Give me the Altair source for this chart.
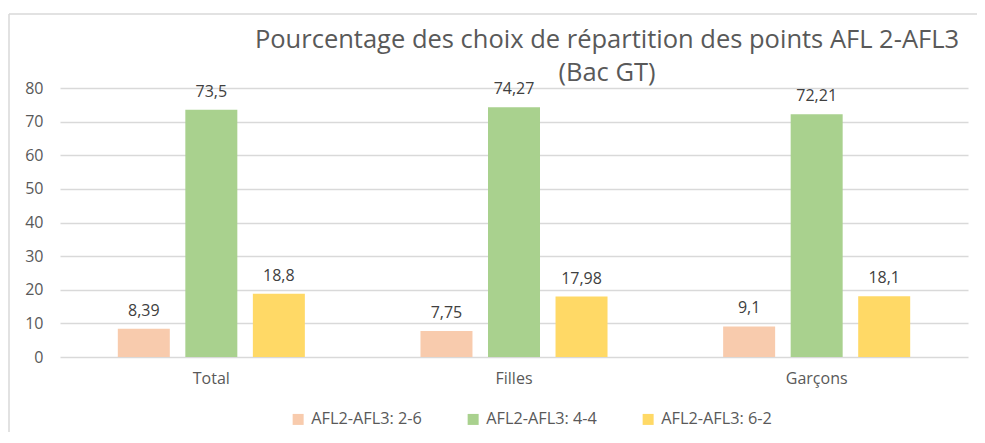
import altair as alt
import pandas as pd

categories = ["Total", "Filles", "Garçons"]
series = ["AFL2-AFL3: 2-6", "AFL2-AFL3: 4-4", "AFL2-AFL3: 6-2"]
v_26 = [8.39, 7.75, 9.1]
v_44 = [73.5, 74.27, 72.21]
v_62 = [18.8, 17.98, 18.1]
colors = ["#F8CBAD", "#A9D18E", "#FFD966"]
y_ticks = [0, 10, 20, 30, 40, 50, 60, 70, 80]
title_lines = ["Pourcentage des choix de répartition des points AFL 2-AFL3", "(Bac GT)"]

rows = []
for s, vals in zip(series, [v_26, v_44, v_62]):
    for c, v in zip(categories, vals):
        rows.append({"cat": c, "serie": s, "val": v, "lab": str(v).replace(".", ",")})
df = pd.DataFrame(rows)
one = pd.DataFrame({"k": [0]})

FONT = "Open Sans"
GREY = "#595959"

x = alt.X("cat:N", sort=categories, title=None,
          scale=alt.Scale(paddingInner=0.382, paddingOuter=0.191),
          axis=alt.Axis(labelAngle=0, labelFontSize=16, labelColor=GREY, labelFont=FONT,
                        ticks=False, domain=False, labelPadding=13))
xo = alt.XOffset("serie:N", sort=series, scale=alt.Scale(paddingInner=0.23))
y = alt.Y("val:Q", title=None,
          scale=alt.Scale(domain=[0, 80], nice=False),
          axis=alt.Axis(values=y_ticks, labelFontSize=16, labelColor=GREY, labelFont=FONT,
                        ticks=False, domain=False, labelPadding=17,
                        gridColor="#d9d9d9", gridWidth=1.3))

base = alt.Chart(df)
bars = base.mark_bar().encode(
    x=x, xOffset=xo, y=y,
    color=alt.Color("serie:N", sort=series,
                    scale=alt.Scale(domain=series, range=colors),
                    legend=alt.Legend(title=None, orient="none", direction="horizontal",
                                      legendX=230, legendY=323, symbolType="square",
                                      symbolSize=121, symbolStrokeWidth=0,
                                      labelFontSize=16.3, labelColor=GREY, labelFont=FONT,
                                      labelOffset=5, columnPadding=43)),
)
texts = base.mark_text(baseline="alphabetic", dy=-13, fontSize=16, color="#404040", font=FONT).encode(
    x=x, xOffset=xo, y=y, text="lab:N")

frame_left = alt.Chart(one).mark_rule(color="#d9d9d9", strokeWidth=1.5).encode(
    x=alt.value(-51), y=alt.value(-74), y2=alt.value(420))
frame_top = alt.Chart(one).mark_rule(color="#d9d9d9", strokeWidth=1.5).encode(
    x=alt.value(-51), x2=alt.value(1000), y=alt.value(-74))

title1 = alt.Chart(one).mark_text(fontSize=25.5, font=FONT, fontWeight="normal", color=GREY,
                                  baseline="alphabetic").encode(
    x=alt.value(547), y=alt.value(-40), text=alt.value(title_lines[0]))
title2 = alt.Chart(one).mark_text(fontSize=25.5, font=FONT, fontWeight="normal", color=GREY,
                                  baseline="alphabetic").encode(
    x=alt.value(547), y=alt.value(-7), text=alt.value(title_lines[1]))

chart = alt.layer(frame_left, frame_top, bars, texts, title1, title2).properties(
    width=908, height=269,
    autosize=alt.AutoSizeParams(type="none"),
    padding={"left": 52, "top": 80, "right": 9, "bottom": 75},
).configure_view(stroke=None)

chart.save("out.html", embed_options={"renderer": "svg", "actions": False})
